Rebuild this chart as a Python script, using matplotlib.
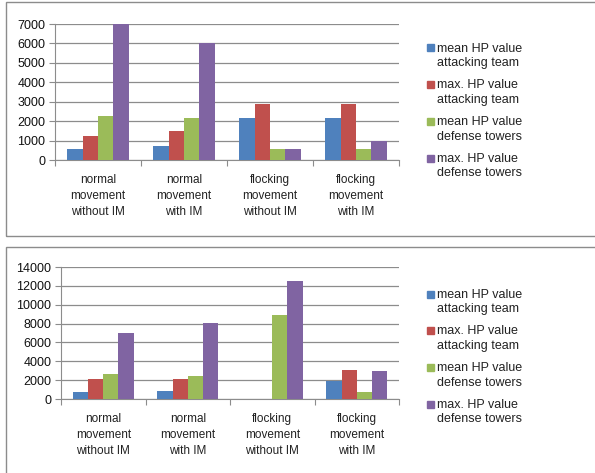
import matplotlib.pyplot as plt
from matplotlib.patches import Rectangle
import numpy as np

plt.rcParams['font.family'] = ['Liberation Sans', 'DejaVu Sans']

W, H = 595, 473

categories = ['normal\nmovement\nwithout IM', 'normal\nmovement\nwith IM',
              'flocking\nmovement\nwithout IM', 'flocking\nmovement\nwith IM']
series = ['mean HP value\nattacking team', 'max. HP value\nattacking team',
          'mean HP value\ndefense towers', 'max. HP value\ndefense towers']
colors = ['#4F81BD', '#C0504D', '#9BBB59', '#8064A2']

# first scenario
top_mean_att = [580, 720, 2180, 2180]
top_max_att = [1250, 1500, 2900, 2900]
top_mean_def = [2250, 2180, 580, 580]
top_max_def = [7000, 6000, 580, 1000]

# second scenario
bot_mean_att = [750, 900, 0, 1950]
bot_max_att = [2100, 2150, 0, 3100]
bot_mean_def = [2650, 2400, 8950, 780]
bot_max_def = [7000, 8100, 12500, 3000]

fig = plt.figure(figsize=(W / 100, H / 100), dpi=100)


def px_box(x0, y0, x1, y1):
    # pixel box (top-left origin) -> figure fraction rect
    return [x0 / W, 1 - y1 / H, (x1 - x0) / W, (y1 - y0) / H]


def frame(x0, y0, x1, y1):
    l, b, w, h = px_box(x0, y0, x1, y1)
    fig.patches.append(Rectangle((l, b), w, h, transform=fig.transFigure,
                                 fill=False, edgecolor='#8c8c8c', lw=1.0))


def legend(x, y):
    for i, (s, c) in enumerate(zip(series, colors)):
        yy = y + i * 36.7
        fig.patches.append(Rectangle(((x - 3.5) / W, 1 - (yy + 3.5) / H), 7 / W, 7 / H,
                                     transform=fig.transFigure, color=c))
        fig.text((x + 7) / W, 1 - (yy - 5.5) / H, s, fontsize=9, va='top', ha='left',
                 linespacing=1.3, color='#222222')


def bars(ax, data, ymax, step):
    x = np.arange(len(categories))
    w = 0.18
    for i, vals in enumerate(data):
        ax.bar(x + (i - 1.5) * w, vals, w, color=colors[i], zorder=3)
    ax.set_xlim(-0.5, len(categories) - 0.5)
    ax.set_ylim(0, ymax)
    ax.set_yticks(np.arange(0, ymax + 1, step))
    ax.yaxis.grid(True, color='#8c8c8c', lw=0.9, zorder=0)
    ax.set_xticks(np.arange(len(categories) + 1) - 0.5)
    ax.set_xticklabels([])
    ax.set_xticks(x, minor=True)
    ax.set_xticklabels(categories, minor=True, fontsize=8.5, linespacing=1.45,
                       color='#222222')
    ax.tick_params(axis='x', which='major', length=4, color='#8c8c8c')
    ax.tick_params(axis='x', which='minor', length=0, pad=10)
    ax.tick_params(axis='y', length=4, color='#8c8c8c', labelsize=9,
                   labelcolor='#111111', pad=3)
    for sp in ['top', 'right']:
        ax.spines[sp].set_visible(False)
    for sp in ['left', 'bottom']:
        ax.spines[sp].set_color('#8c8c8c')


frame(6, 2, 600, 236)
frame(6, 247, 600, 480)

ax1 = fig.add_axes(px_box(55, 24, 399, 160))
bars(ax1, [top_mean_att, top_max_att, top_mean_def, top_max_def], 7000, 1000)
legend(430, 48)

ax2 = fig.add_axes(px_box(61, 267, 399, 399))
bars(ax2, [bot_mean_att, bot_max_att, bot_mean_def, bot_max_def], 14000, 2000)
legend(430, 294)

fig.savefig('out.png', dpi=100)
